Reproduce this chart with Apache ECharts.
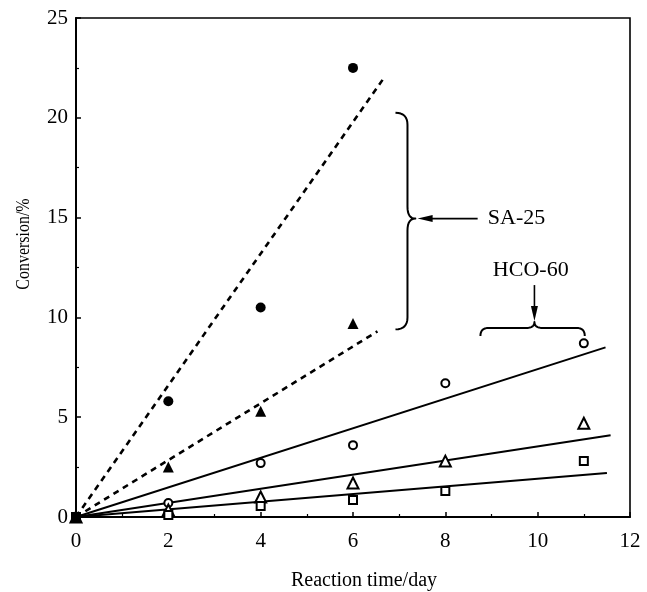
<!DOCTYPE html>
<html>
<head>
<meta charset="utf-8">
<script src="https://cdn.jsdelivr.net/npm/echarts@6/dist/echarts.min.js"></script>
<style>
html, body { margin: 0; padding: 0; background: #fff; }
#chart { width: 647px; height: 592px; }
</style>
</head>
<body>
<div id="chart"></div>
<script>
// Reaction time (days) at which conversion was measured
const saDays = [0, 2, 4, 6];
const hcoDays = [0, 2, 4, 6, 8, 11];

// SA-25 catalyst series (conversion, %)
const saFilledCircle = [0, 5.8, 10.5, 22.5];
const saFilledTriangle = [0, 2.5, 5.3, 9.7];

// HCO-60 catalyst series (conversion, %)
const hcoOpenCircle = [0, 0.7, 2.7, 3.6, 6.7, 8.7];
const hcoOpenTriangle = [0, 0.35, 1.0, 1.7, 2.8, 4.7];
const hcoOpenSquare = [0, 0.1, 0.55, 0.85, 1.3, 2.8];

// Linear trend lines: [start day, start %], [end day, end %]
const fitSaCircle = [[0, 0], [6.64, 21.9]];
const fitSaTriangle = [[0, 0], [6.53, 9.3]];
const fitHcoCircle = [[0, 0], [11.47, 8.5]];
const fitHcoTriangle = [[0, 0], [11.58, 4.1]];
const fitHcoSquare = [[0, 0], [11.5, 2.2]];

const axisX = { min: 0, max: 12, interval: 2 };
const axisY = { min: 0, max: 25, interval: 5 };

const FONT = 'Liberation Serif';
const INK = '#000';

const pairs = (xs, ys) => xs.map((x, i) => [x, ys[i]]);

const chart = echarts.init(document.getElementById('chart'), null, { renderer: 'canvas' });

function scatter(name, xs, ys, symbol, size, filled) {
  return {
    name, type: 'scatter', data: pairs(xs, ys), symbol, symbolSize: size, z: filled ? 6 : 5,
    itemStyle: filled ? { color: INK, opacity: 1 } : { color: INK, borderColor: INK, borderWidth: 1.6, opacity: 1 }
  };
}
function fit(name, pts, dashed) {
  return {
    name, type: 'line', data: pts, symbol: 'none', z: 3, silent: true,
    lineStyle: { color: INK, width: dashed ? 2.6 : 2, type: dashed ? [6, 5] : 'solid' }
  };
}

chart.setOption({
  animation: false,
  backgroundColor: '#fff',
  grid: { left: 76, right: 17, top: 18, bottom: 75, show: true, borderColor: INK, borderWidth: 1.6 },
  xAxis: {
    type: 'value', min: axisX.min, max: axisX.max, interval: axisX.interval,
    axisLine: { lineStyle: { color: INK, width: 2 } },
    axisTick: { inside: true, length: 5, lineStyle: { color: INK, width: 1.5 } },
    minorTick: { show: true, splitNumber: 2, length: 3, lineStyle: { color: INK, width: 1.2 } },
    splitLine: { show: false },
    axisLabel: { color: INK, fontFamily: FONT, fontSize: 21, margin: 14 }
  },
  yAxis: {
    type: 'value', min: axisY.min, max: axisY.max, interval: axisY.interval,
    axisLine: { lineStyle: { color: INK, width: 2 } },
    axisTick: { inside: true, length: 5, lineStyle: { color: INK, width: 1.5 } },
    minorTick: { show: true, splitNumber: 2, length: 3, lineStyle: { color: INK, width: 1.2 } },
    splitLine: { show: false },
    axisLabel: { color: INK, fontFamily: FONT, fontSize: 21, margin: 8 }
  },
  series: [
    fit('SA-25 fit a', fitSaCircle, true),
    fit('SA-25 fit b', fitSaTriangle, true),
    fit('HCO-60 fit a', fitHcoCircle, false),
    fit('HCO-60 fit b', fitHcoTriangle, false),
    fit('HCO-60 fit c', fitHcoSquare, false),
    scatter('HCO-60 ○', hcoDays, hcoOpenCircle, 'emptyCircle', 8, false),
    scatter('HCO-60 △', hcoDays, hcoOpenTriangle, 'emptyTriangle', 11, false),
    scatter('HCO-60 □', hcoDays, hcoOpenSquare, 'emptyRect', 8, false),
    scatter('SA-25 ●', saDays, saFilledCircle, 'circle', 10, true),
    scatter('SA-25 ▲', saDays, saFilledTriangle, 'triangle', 11, true)
  ]
});

// Annotation geometry, in data units (day, %)
const ann = {
  saBrace: { tip: 6.92, spine: 7.18, cusp: 7.35, top: 20.25, mid: 14.95, bottom: 9.4 },
  saArrow: { from: 8.7, to: 7.4, y: 14.95 },
  saText: { x: 8.92, y: 14.95 },
  hcoBrace: { left: 8.76, right: 11.02, cuspX: 9.93, tip: 9.07, spine: 9.47, cusp: 9.77 },
  hcoArrow: { x: 9.93, from: 11.62, to: 9.82 },
  hcoText: { x: 9.85, y: 12.37 }
};

const px = (x, y) => chart.convertToPixel({ gridIndex: 0 }, [x, y]);

// Quadratic curve sampled into points (used to build brace outlines)
function quad(p0, c, p1, n = 8) {
  const out = [];
  for (let i = 0; i <= n; i++) {
    const t = i / n, u = 1 - t;
    out.push([u * u * p0[0] + 2 * u * t * c[0] + t * t * p1[0], u * u * p0[1] + 2 * u * t * c[1] + t * t * p1[1]]);
  }
  return out;
}

function drawAnnotations() {
  const b = ann.saBrace;
  const [tx, ty] = px(b.tip, b.top);
  const [sx] = px(b.spine, b.top);
  const [cx, my] = px(b.cusp, b.mid);
  const [, by] = px(b.tip, b.bottom);
  const r = 12;
  const saPts = [].concat(
    quad([tx, ty], [sx, ty], [sx, ty + r]),
    quad([sx, my - r], [sx, my], [cx, my]),
    quad([cx, my], [sx, my], [sx, my + r]),
    quad([sx, by - r], [sx, by], [tx, by])
  );

  const h = ann.hcoBrace;
  const [lx, tipY] = px(h.left, h.tip);
  const [rx, spY] = px(h.right, h.spine);
  const [mx, cY] = px(h.cuspX, h.cusp);
  const hr = 8;
  const hcoPts = [].concat(
    quad([lx, tipY], [lx, spY], [lx + hr, spY]),
    quad([mx - hr, spY], [mx, spY], [mx, cY]),
    quad([mx, cY], [mx, spY], [mx + hr, spY]),
    quad([rx - hr, spY], [rx, spY], [rx, tipY])
  );

  const [a1x, a1y] = px(ann.saArrow.from, ann.saArrow.y);
  const [a2x] = px(ann.saArrow.to, ann.saArrow.y);
  const [v1x, v1y] = px(ann.hcoArrow.x, ann.hcoArrow.from);
  const [, v2y] = px(ann.hcoArrow.x, ann.hcoArrow.to);
  const [stx, sty] = px(ann.saText.x, ann.saText.y);
  const [htx, hty] = px(ann.hcoText.x, ann.hcoText.y);

  const stroke = { stroke: INK, lineWidth: 2, fill: null, lineJoin: 'round' };
  chart.setOption({
    graphic: [
      { type: 'polyline', shape: { points: saPts }, style: stroke, z: 10 },
      { type: 'polyline', shape: { points: hcoPts }, style: stroke, z: 10 },
      { type: 'line', shape: { x1: a1x, y1: a1y, x2: a2x + 10, y2: a1y }, style: { stroke: INK, lineWidth: 1.6 }, z: 10 },
      { type: 'polygon', shape: { points: [[a2x, a1y], [a2x + 15, a1y - 3.5], [a2x + 15, a1y + 3.5]] }, style: { fill: INK }, z: 10 },
      { type: 'line', shape: { x1: v1x, y1: v1y, x2: v1x, y2: v2y - 10 }, style: { stroke: INK, lineWidth: 1.6 }, z: 10 },
      { type: 'polygon', shape: { points: [[v1x, v2y], [v1x - 3.5, v2y - 15], [v1x + 3.5, v2y - 15]] }, style: { fill: INK }, z: 10 },
      { type: 'text', x: stx, y: sty, style: { text: 'SA-25', fill: INK, font: `22px "${FONT}"`, textAlign: 'left', textVerticalAlign: 'middle' }, z: 10 },
      { type: 'text', x: htx, y: hty, style: { text: 'HCO-60', fill: INK, font: `22px "${FONT}"`, textAlign: 'center', textVerticalAlign: 'middle' }, z: 10 },
      { type: 'text', x: 364, y: 581, style: { text: 'Reaction time/day', fill: INK, font: `20px "${FONT}"`, textAlign: 'center', textVerticalAlign: 'middle' }, z: 10 },
      { type: 'text', x: 24, y: 244, rotation: Math.PI / 2, scaleX: 0.84, style: { text: 'Conversion/%', fill: INK, font: `19px "${FONT}"`, textAlign: 'center', textVerticalAlign: 'middle' }, z: 10 }
    ]
  });
}
drawAnnotations();
</script>
</body>
</html>
